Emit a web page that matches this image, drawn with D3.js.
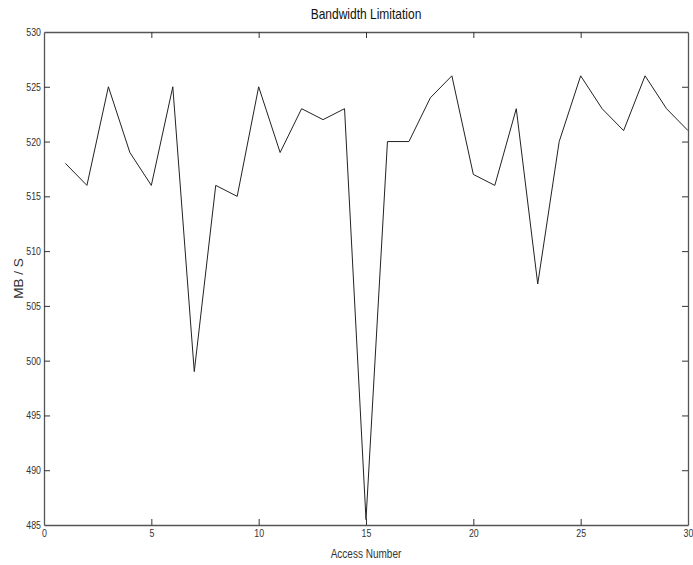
<!DOCTYPE html>
<html>
<head>
<meta charset="utf-8">
<script src="https://cdn.jsdelivr.net/npm/d3@7"></script>
<style>
  html, body { margin: 0; padding: 0; background: #fff; }
  svg { display: block; }
  text { font-family: "Liberation Sans", Arial, sans-serif; }
</style>
</head>
<body>
<svg id="chart" width="693" height="565"></svg>
<script>
// Access number (x) and measured throughput in MB/s (y)
const accessNumbers = [1,2,3,4,5,6,7,8,9,10,11,12,13,14,15,16,17,18,19,20,21,22,23,24,25,26,27,28,29,30];
const bandwidth = [518,516,525,519,516,525,499,516,515,525,519,523,522,523,485.5,520,520,524,526,517,516,523,507,520,526,523,521,526,523,521];
const xTicks = [0,5,10,15,20,25,30];
const yTicks = [485,490,495,500,505,510,515,520,525,530];

const W = 693, H = 565;
const margin = { left: 44, right: 5, top: 32, bottom: 40 };
const x0 = margin.left, x1 = W - margin.right;
const y0 = H - margin.bottom, y1 = margin.top;

const svg = d3.select("#chart");

const x = d3.scaleLinear().domain([0, 30]).range([x0, x1]);
const y = d3.scaleLinear().domain([485, 530]).range([y0, y1]);

const axisColor = "#555";
const tickLen = 6;

// bottom axis: labels outside, ticks pointing inward
const gx = svg.append("g").attr("transform", `translate(0,${y0})`)
  .call(d3.axisBottom(x).tickValues(xTicks).tickSizeInner(-tickLen).tickSizeOuter(0).tickPadding(4));
// top axis: ticks only
const gxt = svg.append("g").attr("transform", `translate(0,${y1})`)
  .call(d3.axisTop(x).tickValues(xTicks).tickSizeInner(-tickLen).tickSizeOuter(0).tickFormat(""));
// left axis
const gy = svg.append("g").attr("transform", `translate(${x0},0)`)
  .call(d3.axisLeft(y).tickValues(yTicks).tickSizeInner(-tickLen).tickSizeOuter(0).tickPadding(3));
// right axis: ticks only
const gyr = svg.append("g").attr("transform", `translate(${x1},0)`)
  .call(d3.axisRight(y).tickValues(yTicks).tickSizeInner(-tickLen).tickSizeOuter(0).tickFormat(""));

[gx, gxt, gy, gyr].forEach(g => {
  g.attr("font-family", null);
  g.select(".domain").attr("stroke", axisColor).attr("stroke-width", 1.3);
  g.selectAll(".tick line").attr("stroke", "#333").attr("stroke-width", 1);
  g.selectAll(".tick text")
    .attr("fill", "#333")
    .style("font-size", "11px");
});
// hide end ticks that would overlap the frame corners
gx.selectAll(".tick line").filter(d => d === 0 || d === 30).remove();
gxt.selectAll(".tick line").filter(d => d === 0 || d === 30).remove();
gy.selectAll(".tick line").filter(d => d === 485 || d === 530).remove();
gyr.selectAll(".tick line").filter(d => d === 485 || d === 530).remove();

// data line
const line = d3.line()
  .x((d, i) => x(accessNumbers[i]))
  .y(d => y(d));
svg.append("path")
  .datum(bandwidth)
  .attr("fill", "none")
  .attr("stroke", "#222")
  .attr("stroke-width", 1)
  .attr("stroke-linejoin", "miter")
  .attr("d", line);

// title
svg.append("text")
  .attr("class", "narrow")
  .attr("x", (x0 + x1) / 2)
  .attr("y", 19)
  .attr("text-anchor", "middle")
  .attr("fill", "#111")
  .style("font-size", "15px")
  .text("Bandwidth Limitation");

// axis labels
svg.append("text")
  .attr("class", "narrow")
  .attr("x", (x0 + x1) / 2)
  .attr("y", 558)
  .attr("text-anchor", "middle")
  .attr("fill", "#333")
  .style("font-size", "12.5px")
  .text("Access Number");

svg.append("text")
  .attr("transform", `translate(23,${(y0 + y1) / 2}) rotate(-90)`)
  .attr("text-anchor", "middle")
  .attr("fill", "#333")
  .style("font-size", "13.5px")
  .text("MB / S");

// condensed lettering: squeeze tick labels, title and x label horizontally
svg.selectAll(".tick text, text.narrow").each(function () {
  const w = this.getComputedTextLength();
  if (w > 0) {
    d3.select(this)
      .attr("textLength", (w * 0.8).toFixed(1))
      .attr("lengthAdjust", "spacingAndGlyphs");
  }
});
</script>
</body>
</html>
